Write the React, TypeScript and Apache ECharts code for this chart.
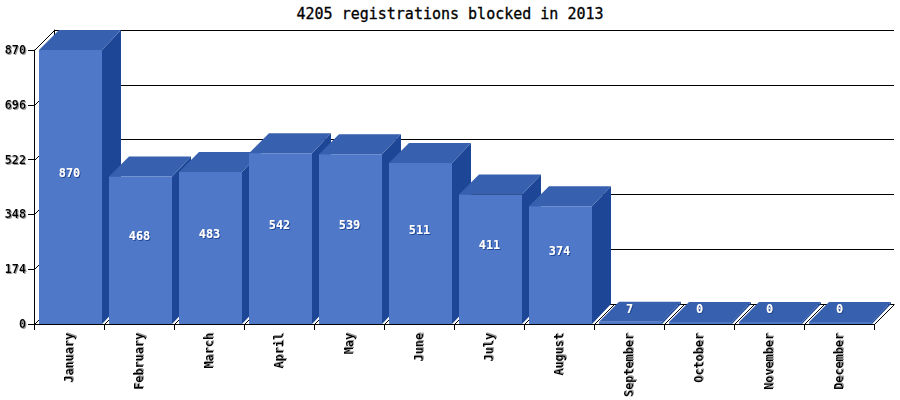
import React, { useEffect, useRef } from "react";
import * as echarts from "echarts";

const titleText = "4205 registrations blocked in 2013";
const months = ["January","February","March","April","May","June","July","August","September","October","November","December"];
const blocked = [870,468,483,542,539,511,411,374,7,0,0,0];
const yMax = 870;
const yStep = 174;
const yTickValues = [0,174,348,522,696,870];

const FONT = '"DejaVu Sans Mono", "Liberation Mono", monospace';
const FRONT = "#4F78C9";
const TOP = "#3760AF";
const SIDE = "#1D4796";

export default function App() {
  const ref = useRef<HTMLDivElement>(null);
  useEffect(() => {
    const chart = echarts.init(ref.current!, null, { renderer: "svg", width: 900, height: 400 });
    const shadow = { textShadowColor: "#999999", textShadowOffsetX: 1, textShadowOffsetY: 1, textShadowBlur: 0.1 };
    chart.setOption({
      animation: false,
      backgroundColor: "#fff",
      title: {
        text: titleText,
        left: "center",
        top: 1,
        textStyle: { fontFamily: FONT, fontSize: 15, fontWeight: "normal", color: "#000", textBorderColor: "#000", textBorderWidth: 0.3 },
      },
      grid: [
        { left: 34, top: 50, width: 840, height: 274 },
        { left: 54, top: 30, width: 840, height: 274 },
      ],
      xAxis: [
        {
          gridIndex: 0,
          type: "category",
          data: months,
          boundaryGap: true,
          axisLine: { lineStyle: { color: "#000", width: 1 } },
          axisTick: { show: true, length: 6, alignWithLabel: false, lineStyle: { color: "#000" } },
          axisLabel: {
            interval: 0,
            rotate: 90,
            margin: 9,
            color: "#000",
            fontFamily: FONT,
            fontWeight: "bold",
            fontSize: 11.8,
            ...shadow,
          },
          z: 1,
        },
        { gridIndex: 1, type: "category", data: months, show: false },
      ],
      yAxis: [
        {
          gridIndex: 0,
          type: "value",
          min: 0,
          max: yMax,
          interval: yStep,
          axisLine: { show: true, lineStyle: { color: "#000", width: 1 } },
          axisTick: { show: true, length: 6, lineStyle: { color: "#000" } },
          splitLine: { show: false },
          axisLabel: {
            margin: 8,
            color: "#000",
            fontFamily: FONT,
            fontWeight: "bold",
            fontSize: 11.8,
            ...shadow,
          },
          z: 1,
        },
        {
          gridIndex: 1,
          type: "value",
          min: 0,
          max: yMax,
          interval: yStep,
          axisLine: { show: true, lineStyle: { color: "#000", width: 1 } },
          axisTick: { show: false },
          axisLabel: { show: false },
          splitLine: { show: true, lineStyle: { color: "#000", width: 1, type: "solid" } },
          z: 0,
        },
      ],
      series: [
        {
          type: "custom",
          xAxisIndex: 0,
          yAxisIndex: 0,
          silent: true,
          z: 2,
          data: yTickValues.map((v) => [v]),
          encode: { y: 0 },
          renderItem: (params: any, api: any) => {
            const y = api.coord([0, api.value(0)])[1];
            const x = params.coordSys.x;
            return {
              type: "line",
              shape: { x1: x + 0.5, y1: Math.round(y) + 0.5, x2: x + 20.5, y2: Math.round(y) - 19.5 },
              style: { stroke: "#000", lineWidth: 1 },
            };
          },
        },
        {
          type: "custom",
          xAxisIndex: 0,
          yAxisIndex: 0,
          silent: true,
          z: 2,
          data: months.concat("").map((_, i) => [i]),
          encode: { x: 0 },
          renderItem: (params: any, api: any) => {
            const i = api.value(0);
            const cs = params.coordSys;
            const x = cs.x + (cs.width / months.length) * i;
            const y = cs.y + cs.height;
            return {
              type: "line",
              shape: { x1: x + 0.5, y1: y + 0.5, x2: x + 20.5, y2: y - 19.5 },
              style: { stroke: "#000", lineWidth: 1 },
            };
          },
        },
        {
          type: "custom",
          xAxisIndex: 0,
          yAxisIndex: 0,
          silent: true,
          z: 3,
          data: blocked.map((v, i) => [i, v]),
          encode: { x: 0, y: 1 },
          renderItem: (params: any, api: any) => {
            const i = api.value(0);
            const v = api.value(1);
            const c = api.coord([i, v]);
            const base = api.coord([i, 0])[1];
            const w = api.size([1, 0])[0];
            const x0 = c[0] - w / 2 + 5;
            const x1 = x0 + 63;
            const yTop = Math.min(c[1], base - 2);
            const dxL = 20, dxR = 19, dy = 20;
            return {
              type: "group",
              children: [
                {
                  type: "polygon",
                  shape: { points: [[x1, yTop], [x1 + dxR, yTop - dy], [x1 + dxR, base - dy], [x1, base]] },
                  style: { fill: SIDE },
                },
                {
                  type: "polygon",
                  shape: { points: [[x0, yTop], [x0 + dxL, yTop - dy], [x1 + dxR, yTop - dy], [x1, yTop]] },
                  style: { fill: TOP },
                },
                {
                  type: "rect",
                  shape: { x: x0, y: yTop, width: x1 - x0, height: base - yTop },
                  style: { fill: FRONT },
                },
                {
                  type: "text",
                  x: (x0 + x1) / 2 - 1,
                  y: (yTop + base) / 2 - 14,
                  z2: 10,
                  style: {
                    text: String(v),
                    fill: "#fff",
                    font: `bold 11.8px ${FONT}`,
                    textAlign: "center",
                    textVerticalAlign: "middle",
                    textShadowColor: "#1D4796",
                    textShadowOffsetX: 1,
                    textShadowOffsetY: 1,
                    textShadowBlur: 0.1,
                  },
                },
              ],
            };
          },
        },
      ],
    });
    return () => chart.dispose();
  }, []);
  return <div ref={ref} style={{ position: "fixed", left: 0, top: 0, width: 900, height: 400 }} />;
}
